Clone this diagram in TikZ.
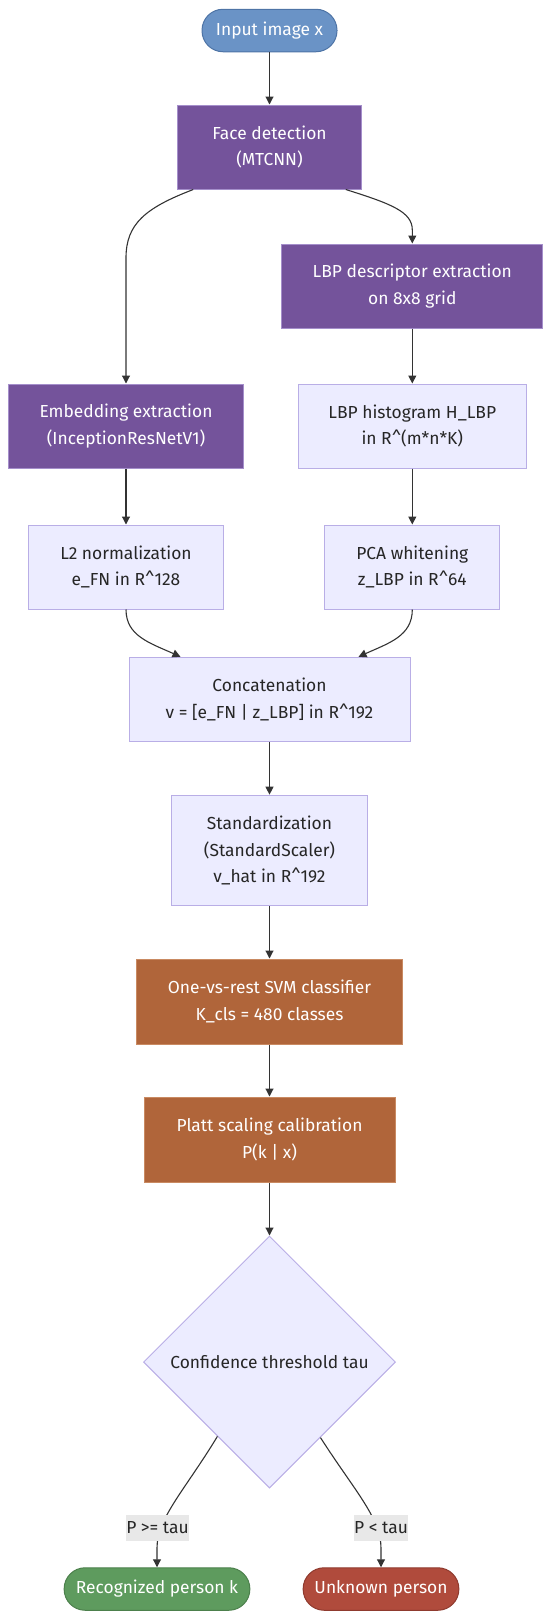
\documentclass[tikz,border=0pt]{standalone}
\usepackage{fontspec}
\setmainfont{Fira Sans}
\usetikzlibrary{arrows.meta,shapes.geometric}
\definecolor{cblue}{HTML}{6A93C6}
\definecolor{cblueb}{HTML}{4E74A6}
\definecolor{cpurple}{HTML}{74539B}
\definecolor{cpurpleb}{HTML}{A58FCB}
\definecolor{clight}{HTML}{ECECFF}
\definecolor{clightb}{HTML}{B9AEE6}
\definecolor{cbrown}{HTML}{B0653A}
\definecolor{cbrownb}{HTML}{C98A62}
\definecolor{cgreen}{HTML}{5E9B5E}
\definecolor{cgreenb}{HTML}{4C804C}
\definecolor{cred}{HTML}{B04B3C}
\definecolor{credb}{HTML}{8F3A2E}
\definecolor{cedge}{HTML}{333333}
\definecolor{ctext}{HTML}{262626}
\definecolor{clabel}{HTML}{E8E8E8}
\tikzset{
  basebox/.style={draw, line width=1pt, align=center, inner sep=0pt},
  purplebox/.style={basebox, fill=cpurple, draw=cpurpleb, text=white},
  lightbox/.style={basebox, fill=clight, draw=clightb, text=ctext},
  brownbox/.style={basebox, fill=cbrown, draw=cbrownb, text=white},
  pillbox/.style={basebox, rounded corners=21pt, minimum height=42.5pt, text=white},
  decbox/.style={diamond, shape aspect=1, draw=clightb, fill=clight, line width=1pt, inner sep=0pt, minimum width=252pt, minimum height=252pt, text=ctext},
  flow/.style={draw=cedge, line width=1.1pt, -{Triangle[length=8pt,width=8pt]}},
  elabel/.style={fill=clabel, text=ctext, inner sep=0pt, minimum width=63pt, minimum height=26pt}
}
\begin{document}
\begin{tikzpicture}[x=1pt,y=-1pt, font=\fontsize{17.4}{26.5}\selectfont]
\useasboundingbox (0,0) rectangle (550,1623);
\node[pillbox, fill=cblue, draw=cblueb, minimum width=135pt] (in) at (269.5,30.5) {Input image x};
\node[purplebox, minimum width=183.5pt, minimum height=84pt] (face) at (269.5,147) {Face detection\\(MTCNN)};
\node[purplebox, minimum width=261.3pt, minimum height=84pt] (lbpd) at (412.3,286) {LBP descriptor extraction\\on 8x8 grid};
\node[purplebox, minimum width=235.4pt, minimum height=84pt] (emb) at (126,426) {Embedding extraction\\(InceptionResNetV1)};
\node[lightbox, minimum width=227.5pt, minimum height=84pt] (hist) at (412.3,426) {LBP histogram H\_LBP\\in R\textasciicircum(m*n*K)};
\node[lightbox, minimum width=194.8pt, minimum height=84pt] (l2) at (126,567) {L2 normalization\\e\_FN in R\textasciicircum128};
\node[lightbox, minimum width=174.8pt, minimum height=84pt] (pca) at (412.3,567) {PCA whitening\\z\_LBP in R\textasciicircum64};
\node[lightbox, minimum width=281pt, minimum height=84.4pt] (cat) at (269.5,699.5) {Concatenation\\v = [e\_FN | z\_LBP] in R\textasciicircum192};
\node[lightbox, minimum width=195.6pt, minimum height=110.7pt] (std) at (269.5,850.5) {Standardization\\(StandardScaler)\\v\_hat in R\textasciicircum192};
\node[brownbox, minimum width=266.3pt, minimum height=85pt] (svm) at (269.5,1001.5) {One-vs-rest SVM classifier\\K\_cls = 480 classes};
\node[brownbox, minimum width=251pt, minimum height=85pt] (platt) at (269.5,1139.5) {Platt scaling calibration\\P(k | x)};
\node[decbox] (dec) at (269.5,1362) {Confidence threshold tau};
\node[pillbox, fill=cgreen, draw=cgreenb, minimum width=185.7pt] (rec) at (157,1589) {Recognized person k};
\node[pillbox, fill=cred, draw=credb, minimum width=155.7pt] (unk) at (381,1589) {Unknown person};

\draw[flow] (in.south) -- (face.north);
\draw[flow] ([xshift=16pt]face.south west) .. controls (145,208) and (126,224) .. (126,258) -- (emb.north);
\draw[flow] ([xshift=-16pt]face.south east) .. controls (392,204) and (412.3,212) .. (412.3,230) -- (lbpd.north);
\draw[flow] (lbpd.south) -- (hist.north);
\draw[flow] (emb.south) -- (l2.north);
\draw[flow] (hist.south) -- (pca.north);
\draw[flow] (l2.south) .. controls (126,636) and (150,643) .. ([xshift=52pt]cat.north west);
\draw[flow] (pca.south) .. controls (412.3,636) and (389,643) .. ([xshift=-52pt]cat.north east);
\draw[flow] (cat.south) -- (std.north);
\draw[flow] (std.south) -- (svm.north);
\draw[flow] (svm.south) -- (platt.north);
\draw[flow] (platt.south) -- (dec.north);
\draw[flow] (dec.235.7) .. controls (185,1490) and (157,1518) .. (157,1548) -- (rec.north);
\draw[flow] (dec.304.3) .. controls (354,1490) and (381,1518) .. (381,1548) -- (unk.north);
\node[elabel] (lyes) at (157.5,1528) {P >= tau};
\node[elabel, minimum width=54pt] (lno) at (381,1528) {P < tau};
\end{tikzpicture}
\end{document}
